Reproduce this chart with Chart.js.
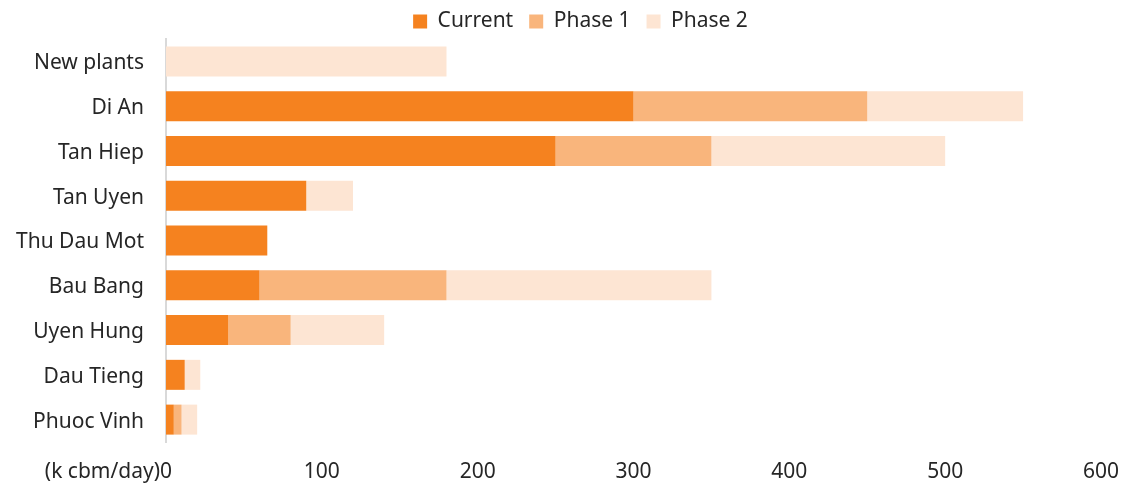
<!DOCTYPE html>
<html>
<head>
<meta charset="utf-8">
<script src="https://cdn.jsdelivr.net/npm/chart.js@4"></script>
<style>
  html, body { margin: 0; padding: 0; background: #fff; }
  #wrap { width: 1122px; height: 487px; }
</style>
</head>
<body>
<div id="wrap"><canvas id="c" width="1122" height="487"></canvas></div>
<script>
// Water supply capacity by plant (k cbm/day)
const plants = ['New plants', 'Di An', 'Tan Hiep', 'Tan Uyen', 'Thu Dau Mot', 'Bau Bang', 'Uyen Hung', 'Dau Tieng', 'Phuoc Vinh'];
const currentCap = [0, 300, 250, 90, 65, 60, 40, 12, 5];
const phase1Cap  = [0, 150, 100, 0, 0, 120, 40, 0, 5];
const phase2Cap  = [180, 100, 150, 30, 0, 170, 60, 10, 10];
const axisTicks  = [0, 100, 200, 300, 400, 500, 600];
const unitLabel  = '(k cbm/day)';

const FONT = 'Noto Sans, Open Sans, sans-serif';
const FONT_SIZE = 21;
const TEXT = '#262626';
const X_TICK_PAD = 17;

// Compact legend band above the plot, nudged toward the plot's centre
const legendPlacementPlugin = {
  id: 'legendPlacement',
  beforeInit(chart) {
    const lg = chart.legend;
    if (!lg) return;
    const origFit = lg.fit;
    lg.fit = function () {
      origFit.call(this);
      this.height = 39;
    };
    const origDraw = lg.draw;
    lg.draw = function () {
      const ctx = this.ctx;
      ctx.save();
      ctx.translate(30, -5);
      origDraw.apply(this, arguments);
      ctx.restore();
    };
  }
};

// Unit caption written just left of the zero tick
const unitPlugin = {
  id: 'unitLabel',
  afterDraw(chart) {
    const xs = chart.scales.x;
    const ctx = chart.ctx;
    ctx.save();
    ctx.font = FONT_SIZE + 'px ' + FONT;
    ctx.fillStyle = TEXT;
    ctx.textAlign = 'right';
    ctx.textBaseline = 'middle';
    const x0 = xs.getPixelForValue(0) - ctx.measureText('0').width / 2;
    const y = xs.top + X_TICK_PAD + FONT_SIZE * 1.2 / 2;
    ctx.fillText(unitLabel, x0, y);
    ctx.restore();
  }
};

new Chart(document.getElementById('c'), {
  type: 'bar',
  data: {
    labels: plants,
    datasets: [
      { label: 'Current', data: currentCap, backgroundColor: '#F5821F' },
      { label: 'Phase 1', data: phase1Cap, backgroundColor: '#F9B57C' },
      { label: 'Phase 2', data: phase2Cap, backgroundColor: '#FDE5D3' }
    ]
  },
  options: {
    indexAxis: 'y',
    responsive: false,
    animation: false,
    devicePixelRatio: 1,
    layout: { padding: { left: 0, right: 21, top: 0, bottom: 0 } },
    datasets: { bar: { categoryPercentage: 1, barPercentage: 0.67, borderWidth: 0 } },
    plugins: {
      tooltip: { enabled: false },
      legend: {
        position: 'top',
        labels: {
          font: { family: FONT, size: FONT_SIZE },
          color: TEXT,
          boxWidth: 14,
          boxHeight: 14,
          padding: 16
        }
      }
    },
    scales: {
      x: {
        stacked: true,
        min: 0,
        max: 600,
        afterBuildTicks(scale) { scale.ticks = axisTicks.map(v => ({ value: v })); },
        afterFit(scale) {
          scale.height = 45;
          scale.paddingLeft = 0;
          scale.paddingRight = 0;
        },
        grid: { display: false, drawTicks: false },
        border: { display: false },
        ticks: {
          font: { family: FONT, size: FONT_SIZE },
          color: TEXT,
          padding: X_TICK_PAD,
          maxRotation: 0
        }
      },
      y: {
        stacked: true,
        afterFit(scale) {
          scale.width = 166;
          scale.paddingTop = 0;
          scale.paddingBottom = 0;
        },
        grid: { display: false, drawTicks: false },
        border: { display: true, color: '#D9D9D9', width: 2 },
        ticks: {
          font: { family: FONT, size: FONT_SIZE },
          color: TEXT,
          padding: 22,
          labelOffset: 2
        }
      }
    }
  },
  plugins: [legendPlacementPlugin, unitPlugin]
});
</script>
</body>
</html>
